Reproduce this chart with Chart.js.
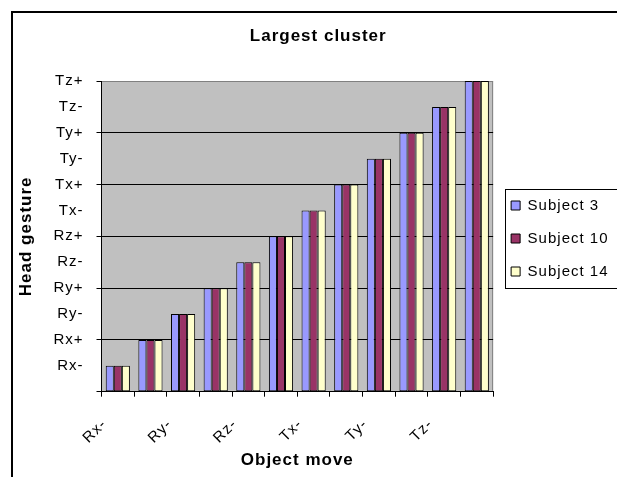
<!DOCTYPE html>
<html><head><meta charset="utf-8">
<script src="https://cdn.jsdelivr.net/npm/chart.js@4/dist/chart.umd.min.js"></script>
<style>
html,body{margin:0;padding:0;background:#fff;overflow:hidden;}
#wrap{position:relative;width:617px;height:477px;overflow:hidden;}
#frame{position:absolute;left:11px;top:11px;width:640px;height:500px;border:2px solid #000;pointer-events:none;}
canvas{position:absolute;left:0;top:0;}
</style></head><body>
<div id="wrap"><canvas id="c" width="617" height="477"></canvas><div id="frame"></div></div>
<script>
const categories = ['Rx-','Rx+','Ry-','Ry+','Rz-','Rz+','Tx-','Tx+','Ty-','Ty+','Tz-','Tz+'];
const yTickLabels = ['','Rx-','Rx+','Ry-','Ry+','Rz-','Rz+','Tx-','Tx+','Ty-','Ty+','Tz-','Tz+'];
const seriesNames = ['Subject 3','Subject 10','Subject 14'];
const subject3  = [1,2,3,4,5,6,7,8,9,10,11,12];
const subject10 = [1,2,3,4,5,6,7,8,9,10,11,12];
const subject14 = [1,2,3,4,5,6,7,8,9,10,11,12];
const seriesColors = ['#9999FF','#993366','#FFFFCC'];

const FONT = "'Liberation Sans', Arial, sans-serif";

const spacing = {
  id: 'spacing',
  beforeInit(c){ c.ctx.letterSpacing = '1px'; },
  beforeUpdate(c){ c.ctx.letterSpacing = '1px'; },
  beforeLayout(c){ c.ctx.letterSpacing = '1px'; },
  beforeDraw(c){ c.ctx.letterSpacing = '1px'; }
};

const plotBg = {
  id: 'plotBg',
  beforeDraw(c){
    const a = c.chartArea, ctx = c.ctx;
    ctx.save();
    ctx.fillStyle = '#C0C0C0';
    ctx.fillRect(a.left, a.top, a.right - a.left, a.bottom - a.top);
    ctx.strokeStyle = '#808080';
    ctx.lineWidth = 1;
    ctx.beginPath();
    ctx.moveTo(a.left, a.top + 0.5);
    ctx.lineTo(a.right - 0.5, a.top + 0.5);
    ctx.lineTo(a.right - 0.5, a.bottom);
    ctx.stroke();
    ctx.restore();
  }
};

const legendFrame = {
  id: 'legendFrame',
  afterDraw(c){
    const hb = c.legend && c.legend.legendHitBoxes;
    if (!hb || !hb.length) return;
    const ctx = c.ctx;
    const x0 = Math.round(hb[0].left - 6) + 0.5;
    const y0 = Math.round(hb[0].top - 9.5) + 0.5;
    const last = hb[hb.length - 1];
    const y1 = Math.round(last.top + last.height + 9) + 0.5;
    ctx.save();
    ctx.strokeStyle = '#000';
    ctx.lineWidth = 1;
    ctx.strokeRect(x0, y0, 700, y1 - y0);
    ctx.restore();
  }
};

const datasets = [subject3, subject10, subject14].map((d, i) => ({
  label: seriesNames[i],
  data: d,
  backgroundColor: seriesColors[i],
  borderColor: '#000',
  borderWidth: 1,
  borderSkipped: false,
  barPercentage: 1.0,
  categoryPercentage: 0.7407
}));

new Chart(document.getElementById('c'), {
  type: 'bar',
  data: { labels: categories, datasets },
  plugins: [spacing, plotBg, legendFrame],
  options: {
    responsive: false,
    animation: false,
    devicePixelRatio: 1,
    layout: { padding: { left: 18, right: -1.5, top: 0, bottom: 0 } },
    plugins: {
      title: {
        display: true,
        text: 'Largest cluster',
        color: '#000',
        font: { family: FONT, size: 17, weight: 'bold', lineHeight: 1.2 },
        padding: { top: 26.2, bottom: 34.4 }
      },
      legend: {
        display: true,
        position: 'right',
        labels: {
          color: '#000',
          font: { family: FONT, size: 15 },
          boxWidth: 9,
          boxHeight: 9,
          padding: 18
        }
      },
      tooltip: { enabled: false }
    },
    scales: {
      x: {
        offset: true,
        grid: { display: true, drawOnChartArea: false, drawTicks: true, tickLength: 5, color: '#000', offset: true },
        border: { display: true, color: '#000', width: 1 },
        ticks: {
          autoSkip: false,
          maxRotation: 45,
          minRotation: 45,
          padding: 18.8,
          labelOffset: -13.6,
          color: '#000',
          font: { family: FONT, size: 15 },
          callback: function(v, i){ return i % 2 === 0 ? categories[i] : ''; }
        },
        title: {
          display: true,
          text: 'Object move',
          color: '#000',
          font: { family: FONT, size: 17, weight: 'bold', lineHeight: 1.2 },
          padding: { top: 0, bottom: 6.8 }
        },
        afterFit: function(s){ s.height = 85.3; }
      },
      y: {
        min: 0,
        max: 12,
        grid: {
          display: true,
          drawTicks: true,
          tickLength: 5,
          color: function(ctx){
            const v = ctx.tick ? ctx.tick.value : 0;
            if (v === 12) return '#808080';
            return v % 2 === 0 ? '#000' : 'rgba(0,0,0,0)';
          },
          tickColor: function(ctx){
            const v = ctx.tick ? ctx.tick.value : 0;
            return v % 2 === 0 ? '#000' : 'rgba(0,0,0,0)';
          }
        },
        border: { display: true, color: '#000', width: 1 },
        ticks: {
          stepSize: 1,
          autoSkip: false,
          crossAlign: 'near',
          padding: 13,
          color: '#000',
          font: { family: FONT, size: 15 },
          callback: function(v){ return yTickLabels[v]; }
        },
        title: {
          display: true,
          text: 'Head gesture',
          color: '#000',
          font: { family: FONT, size: 17, weight: 'bold', lineHeight: 1 },
          padding: 0
        },
        afterFit: function(s){ s.width = 83.5; }
      }
    }
  }
});
</script>
</body></html>
